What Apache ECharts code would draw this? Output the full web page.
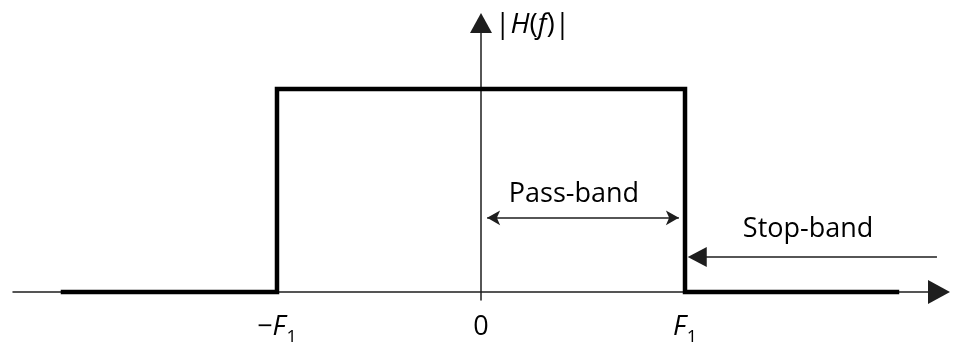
<!DOCTYPE html>
<html>
<head>
<meta charset="utf-8">
<title>Ideal low-pass filter magnitude response</title>
<script src="https://cdn.jsdelivr.net/npm/echarts@6/dist/echarts.min.js"></script>
<style>
  html, body { margin: 0; padding: 0; background: #fff; }
  #chart { width: 955px; height: 342px; }
</style>
</head>
<body>
<div id="chart"></div>
<script>
// Frequency response |H(f)| of an ideal low-pass filter, cutoff F1 = 1
const freqs = [-2.06, -1, -1, 1, 1, 2.05];
const gain  = [0, 0, 1, 1, 0, 0];

// Tick positions on the frequency axis and their labels
const tickValues = [-1, 0, 1];
const tickLabels = ['{n|\u2212}{i|F}{s|1}', '{n|0}', '{i|F}{s|1}'];

// Band annotations: [from f, to f, level, text]
const passBand = [0.03, 0.97, 0.365, 'Pass-band'];
const stopBand = [2.235, 1.06, 0.172, 'Stop-band'];

const FONT = 'Open Sans';
const INK = '#000';
const THIN = '#1e1e1e';

const chart = echarts.init(document.getElementById('chart'), null, { renderer: 'canvas' });

const labelRich = {
  n: { fontFamily: FONT, fontSize: 27, color: INK, lineHeight: 28 },
  i: { fontFamily: FONT, fontSize: 27, fontStyle: 'italic', color: INK, lineHeight: 28 },
  s: { fontFamily: FONT, fontSize: 18, color: INK, verticalAlign: 'bottom', lineHeight: 18, padding: [0, 0, -6, 1] }
};

chart.setOption({
  animation: false,
  backgroundColor: '#fff',
  grid: { left: 13, right: 16, top: 23, bottom: 42, containLabel: false, outerBoundsMode: 'none' },
  xAxis: {
    type: 'value',
    min: -2.294,
    max: 2.245,
    splitLine: { show: false },
    axisTick: { show: false },
    axisLine: {
      show: true,
      onZero: true,
      symbol: ['none', 'triangle'],
      symbolSize: [24, 22],
      lineStyle: { color: THIN, width: 1.5 }
    },
    axisLabel: {
      customValues: tickValues,
      margin: 13,
      verticalAlign: 'top',
      formatter: function (v) {
        const k = tickValues.indexOf(v);
        return k >= 0 ? tickLabels[k] : '';
      },
      rich: labelRich
    }
  },
  yAxis: {
    type: 'value',
    min: -0.04,
    max: 1.325,
    splitLine: { show: false },
    axisTick: { show: false },
    axisLabel: { show: false },
    axisLine: {
      show: true,
      onZero: true,
      symbol: ['none', 'triangle'],
      symbolSize: [22, 20],
      lineStyle: { color: THIN, width: 1.5 }
    },
    name: '|{i|H}({i|f})|',
    nameLocation: 'end',
    nameGap: -2,
    nameTextStyle: {
      fontFamily: FONT,
      fontSize: 28,
      color: INK,
      align: 'left',
      verticalAlign: 'middle',
      padding: [0, 0, 0, 14],
      rich: {
        i: { fontFamily: FONT, fontSize: 28, fontStyle: 'italic', color: INK }
      }
    }
  },
  series: [
    {
      type: 'line',
      data: freqs.map((f, k) => [f, gain[k]]),
      showSymbol: false,
      silent: true,
      lineStyle: { color: INK, width: 4.5, join: 'miter', cap: 'butt' },
      markLine: {
        silent: true,
        animation: false,
        label: {
          show: true,
          position: 'middle',
          fontFamily: FONT,
          fontSize: 27,
          color: INK
        },
        data: [
          [
            {
              coord: [passBand[0], passBand[2]],
              symbol: 'arrow',
              symbolSize: [11, 13],
              lineStyle: { color: THIN, width: 1.5, type: 'solid' },
              label: { formatter: passBand[3], distance: 10, padding: [0, 18, 0, 0] }
            },
            { coord: [passBand[1], passBand[2]], symbol: 'arrow', symbolSize: [11, 13] }
          ],
          [
            {
              coord: [stopBand[0], stopBand[2]],
              symbol: 'none',
              lineStyle: { color: THIN, width: 1.5, type: 'solid' },
              label: { formatter: stopBand[3], distance: 14, padding: [0, 18, 0, 0] }
            },
            { coord: [stopBand[1], stopBand[2]], symbol: 'triangle', symbolSize: [20, 19] }
          ]
        ]
      }
    }
  ]
});
</script>
</body>
</html>
